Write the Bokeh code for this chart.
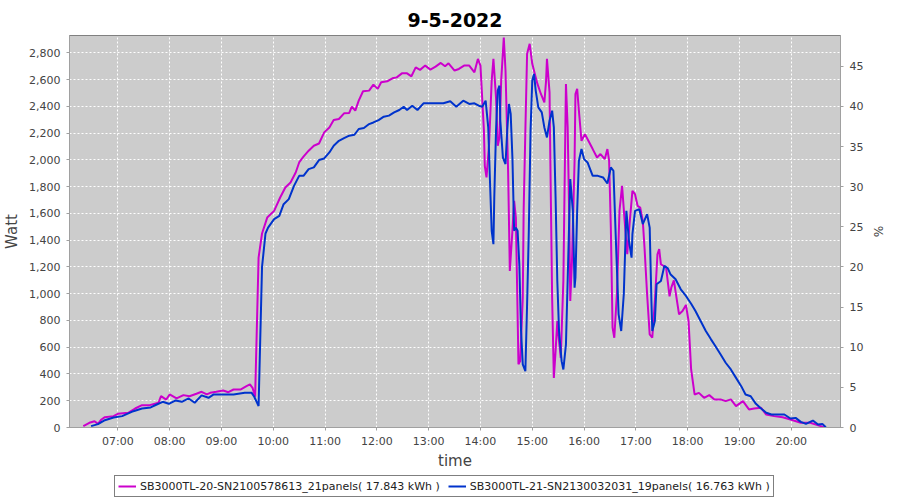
import pandas as pd
from bokeh.plotting import figure
from bokeh.layouts import column
from bokeh.models import (Range1d, LinearAxis, SingleIntervalTicker, FixedTicker,
                          NumeralTickFormatter, DatetimeTickFormatter, Legend, LegendItem)
from bokeh.embed import file_html
from bokeh.resources import INLINE

DAY = "2022-05-09 "
title_text = "9-5-2022"
name_a = "SB3000TL-20-SN2100578613_21panels( 17.843 kWh )"
name_b = "SB3000TL-21-SN2130032031_19panels( 16.763 kWh )"
hour_ticks = ["07:00", "08:00", "09:00", "10:00", "11:00", "12:00", "13:00",
              "14:00", "15:00", "16:00", "17:00", "18:00", "19:00", "20:00"]
x_start, x_end = "06:04", "20:57"
watt_max = 2930
pct_factor = 60.0

times_a = ["06:20", "06:27", "06:33", "06:37", "06:41", "06:45", "06:55", "07:00", "07:12", "07:20",
           "07:28", "07:37", "07:47", "07:50", "07:56", "08:00", "08:08", "08:16", "08:23", "08:31",
           "08:37", "08:43", "08:47", "08:54", "09:02", "09:08", "09:14", "09:22", "09:29", "09:33",
           "09:36", "09:39", "09:43", "09:47", "09:53", "10:01", "10:08", "10:14", "10:20", "10:26",
           "10:30", "10:35", "10:41", "10:47", "10:53", "10:59", "11:05", "11:10", "11:16", "11:22",
           "11:28", "11:31", "11:35", "11:39", "11:44", "11:51", "11:56", "12:01", "12:05", "12:12",
           "12:18", "12:23", "12:29", "12:35", "12:40", "12:45", "12:50", "12:56", "13:02", "13:08",
           "13:14", "13:19", "13:23", "13:30", "13:35", "13:41", "13:47", "13:53", "13:57", "14:00",
           "14:04", "14:05", "14:07", "14:10", "14:13", "14:15", "14:18", "14:20", "14:22", "14:24",
           "14:27", "14:29", "14:32", "14:34", "14:37", "14:39", "14:41", "14:43", "14:44", "14:46",
           "14:49", "14:50", "14:52", "14:54", "14:57", "15:00", "15:03", "15:06", "15:10", "15:14",
           "15:16", "15:17", "15:20", "15:21", "15:23", "15:25", "15:27", "15:29", "15:31", "15:33",
           "15:36", "15:39", "15:41", "15:43", "15:44", "15:46", "15:49", "15:50", "15:52", "15:54",
           "15:57", "16:01", "16:05", "16:10", "16:15", "16:19", "16:24", "16:27", "16:29", "16:31",
           "16:33", "16:35", "16:38", "16:41", "16:44", "16:47", "16:50", "16:53", "16:56", "16:59",
           "17:02", "17:05", "17:08", "17:10", "17:13", "17:16", "17:19", "17:22", "17:25", "17:27",
           "17:29", "17:35", "17:39", "17:41", "17:44", "17:50", "17:54", "17:58", "18:01", "18:04",
           "18:08", "18:13", "18:19", "18:25", "18:31", "18:38", "18:44", "18:50", "18:56", "19:04",
           "19:11", "19:17", "19:25", "19:31", "19:40", "19:50", "19:59", "20:11", "20:22", "20:34",
           "20:38"]
watt_a = [10, 35, 47, 27, 60, 77, 85, 102, 110, 142,
          167, 167, 185, 234, 209, 247, 217, 242, 234, 252,
          267, 247, 259, 267, 277, 264, 284, 284, 309, 322,
          297, 230, 1270, 1450, 1569, 1619, 1719, 1794, 1831, 1906,
          1981, 2024, 2069, 2106, 2123, 2206, 2243, 2298, 2306, 2348,
          2351, 2398, 2368, 2443, 2513, 2518, 2563, 2531, 2580, 2588,
          2610, 2617, 2647, 2647, 2625, 2692, 2673, 2705, 2675, 2697,
          2725, 2700, 2722, 2668, 2680, 2705, 2705, 2655, 2755, 2705,
          2218, 1956, 1869, 2119, 2593, 2755, 2468, 2106, 2168, 2593,
          2915, 2668, 1919, 1170, 1470, 1694, 1569, 846, 472, 496,
          970, 1619, 2218, 2793, 2868, 2718, 2643, 2568, 2493, 2430,
          2593, 2755, 2505, 1969, 970, 371, 571, 796, 646, 521,
          1095, 2568, 2243, 1494, 946, 1245, 1994, 2493, 2531, 2368,
          2143, 2193, 2143, 2081, 2018, 2044, 2006, 2081, 1994, 1494,
          746, 671, 996, 1619, 1806, 1544, 1295, 1544, 1769, 1744,
          1657, 1644, 1544, 1345, 996, 696, 671, 946, 1295, 1333,
          1220, 1195, 980, 1045, 1100, 846, 871, 916, 796, 434,
          247, 259, 222, 242, 210, 210, 197, 210, 160, 197,
          135, 142, 147, 97, 85, 77, 60, 35, 35, 10,
          0]

times_b = ["06:29", "06:37", "06:44", "06:55", "07:05", "07:18", "07:28", "07:38", "07:45", "07:52",
           "07:59", "08:07", "08:14", "08:22", "08:29", "08:37", "08:45", "08:51", "09:00", "09:14",
           "09:27", "09:35", "09:38", "09:43", "09:47", "09:51", "09:54", "10:01", "10:07", "10:12",
           "10:18", "10:24", "10:30", "10:35", "10:41", "10:47", "10:53", "10:59", "11:05", "11:10",
           "11:16", "11:22", "11:28", "11:34", "11:39", "11:45", "11:51", "11:56", "12:02", "12:08",
           "12:14", "12:20", "12:26", "12:31", "12:35", "12:41", "12:47", "12:54", "13:02", "13:10",
           "13:17", "13:25", "13:32", "13:40", "13:47", "13:53", "13:58", "14:02", "14:06", "14:09",
           "14:11", "14:13", "14:15", "14:16", "14:18", "14:20", "14:22", "14:23", "14:26", "14:29",
           "14:31", "14:33", "14:35", "14:37", "14:39", "14:41", "14:43", "14:45", "14:47", "14:49",
           "14:52", "14:54", "14:56", "14:58", "15:00", "15:02", "15:04", "15:07", "15:11", "15:14",
           "15:17", "15:20", "15:23", "15:25", "15:27", "15:29", "15:31", "15:34", "15:36", "15:39",
           "15:41", "15:44", "15:47", "15:49", "15:50", "15:52", "15:54", "15:57", "16:00", "16:04",
           "16:10", "16:16", "16:22", "16:27", "16:31", "16:34", "16:37", "16:40", "16:43", "16:46",
           "16:49", "16:52", "16:55", "16:56", "16:59", "17:04", "17:08", "17:13", "17:16", "17:18",
           "17:19", "17:22", "17:24", "17:29", "17:33", "17:37", "17:40", "17:46", "17:52", "17:58",
           "18:04", "18:09", "18:15", "18:21", "18:27", "18:32", "18:38", "18:44", "18:50", "18:56",
           "19:02", "19:07", "19:13", "19:19", "19:25", "19:31", "19:37", "19:44", "19:52", "19:59",
           "20:05", "20:11", "20:17", "20:25", "20:31", "20:36", "20:40"]
watt_b = [10, 25, 52, 75, 85, 122, 142, 150, 172, 192,
          177, 202, 192, 217, 185, 240, 222, 247, 247, 247,
          259, 259, 230, 160, 1200, 1450, 1494, 1557, 1582, 1669,
          1707, 1806, 1881, 1881, 1931, 1944, 1999, 2011, 2056, 2106,
          2143, 2163, 2181, 2188, 2231, 2238, 2268, 2280, 2298, 2323,
          2331, 2355, 2373, 2398, 2373, 2405, 2373, 2423, 2423, 2423,
          2423, 2438, 2398, 2443, 2418, 2423, 2405, 2398, 2443, 2243,
          1844, 1470, 1370, 1719, 2218, 2518, 2555, 2293, 2018, 1969,
          2218, 2418, 2343, 2018, 1470, 1494, 1470, 1220, 721, 472,
          421, 921, 1470, 2218, 2593, 2643, 2518, 2393, 2355, 2243,
          2168, 2293, 2368, 2243, 1719, 1095, 721, 496, 434, 620,
          1100, 1857, 1619, 1045, 1120, 1619, 1994, 2081, 2006, 1981,
          1881, 1881, 1869, 1824, 1944, 1919, 1370, 846, 721, 996,
          1619, 1395, 1270, 1445, 1619, 1632, 1520, 1595, 1494, 946,
          721, 796, 1071, 1095, 1208, 1190, 1146, 1108, 1033, 983,
          925, 871, 796, 721, 659, 609, 547, 484, 434, 371,
          309, 247, 234, 177, 142, 110, 97, 97, 97, 67,
          72, 42, 27, 52, 22, 27, 2]


def ts(hm):
    return pd.Timestamp(DAY + hm)


xa = [ts(t) for t in times_a]
xb = [ts(t) for t in times_b]
color_a, color_b = "#cc00cc", "#0033cc"

p = figure(frame_width=771, frame_height=392, x_axis_type="datetime", output_backend="svg",
           toolbar_location=None,
           x_range=Range1d(ts(x_start), ts(x_end)), y_range=Range1d(0, watt_max),
           min_border_left=68, min_border_right=45, min_border_top=35, min_border_bottom=0)

p.background_fill_color = "#cccccc"
p.border_fill_color = "white"
p.outline_line_color = "#808080"
p.outline_line_width = 1

p.title.text = title_text
p.title.align = "center"
p.title.text_font = "DejaVu Sans"
p.title.text_font_size = "19px"
p.title.text_font_style = "bold"
p.title.text_color = "black"
p.title.offset = -22
p.title.standoff = 17

p.extra_y_ranges = {"pct": Range1d(0, watt_max / pct_factor)}

tick_ms = [ts(t).value // 10**6 for t in hour_ticks]
p.xaxis.ticker = FixedTicker(ticks=tick_ms)
p.xaxis.formatter = DatetimeTickFormatter(hours="%H:%M", minutes="%H:%M", hourmin="%H:%M",
                                          days="%H:%M")
p.xaxis.axis_label = "time"
p.xaxis.axis_label_standoff = 1
p.xaxis.major_label_standoff = 4
p.yaxis.ticker = SingleIntervalTicker(interval=200)
p.yaxis.formatter = NumeralTickFormatter(format="0,0")
p.yaxis.axis_label = "Watt"

right = LinearAxis(y_range_name="pct", axis_label="%", ticker=SingleIntervalTicker(interval=5))
p.add_layout(right, "right")

for ax in [p.xaxis[0], p.yaxis[0], right]:
    ax.axis_line_color = "#a0a0a0"
    ax.major_tick_line_color = "#a0a0a0"
    ax.major_tick_out = 3
    ax.major_tick_in = 0
    ax.minor_tick_line_color = None
    ax.major_label_text_font = "DejaVu Sans"
    ax.major_label_text_font_size = "11px"
    ax.major_label_text_color = "#444444"
    ax.axis_label_text_font = "DejaVu Sans"
    ax.axis_label_text_font_size = "15px"
    ax.axis_label_text_font_style = "normal"
    ax.axis_label_text_color = "#444444"
right.axis_label_text_font_size = "12px"

p.xgrid.grid_line_color = "white"
p.xgrid.grid_line_dash = "2 2"
p.xgrid.grid_line_width = 1
p.ygrid.grid_line_color = "white"
p.ygrid.grid_line_dash = "2 2"
p.ygrid.grid_line_width = 1

p.line(xa, watt_a, line_color=color_a, line_width=2)
p.line(xb, watt_b, line_color=color_b, line_width=2)

# legend strip below the chart (its lines use the same series, kept out of view)
lf = figure(width=884, height=27, output_backend="svg", toolbar_location=None,
            x_axis_type="datetime", x_range=Range1d(ts(x_start), ts(x_end)),
            y_range=Range1d(-20, -10), x_axis_location=None, y_axis_location=None,
            min_border_left=0, min_border_right=0, min_border_top=0, min_border_bottom=0)
lf.grid.visible = False
lf.outline_line_color = None
lf.background_fill_color = "white"
lf.border_fill_color = "white"
la = lf.line(xa, watt_a, line_color=color_a, line_width=2)
lb = lf.line(xb, watt_b, line_color=color_b, line_width=2)

legend = Legend(items=[LegendItem(label=name_a, renderers=[la]),
                       LegendItem(label=name_b, renderers=[lb])],
                orientation="horizontal", location=(45, 2),
                border_line_color="black", border_line_width=1,
                background_fill_color="white", background_fill_alpha=1,
                label_text_font="DejaVu Sans", label_text_font_size="11px",
                label_text_color="#222222", label_height=14,
                glyph_width=18, glyph_height=10,
                label_standoff=4, spacing=8, padding=3, margin=0)
lf.add_layout(legend, "center")

layout = column(p, lf, spacing=0)
open("out.html", "w").write(file_html(layout, INLINE))
